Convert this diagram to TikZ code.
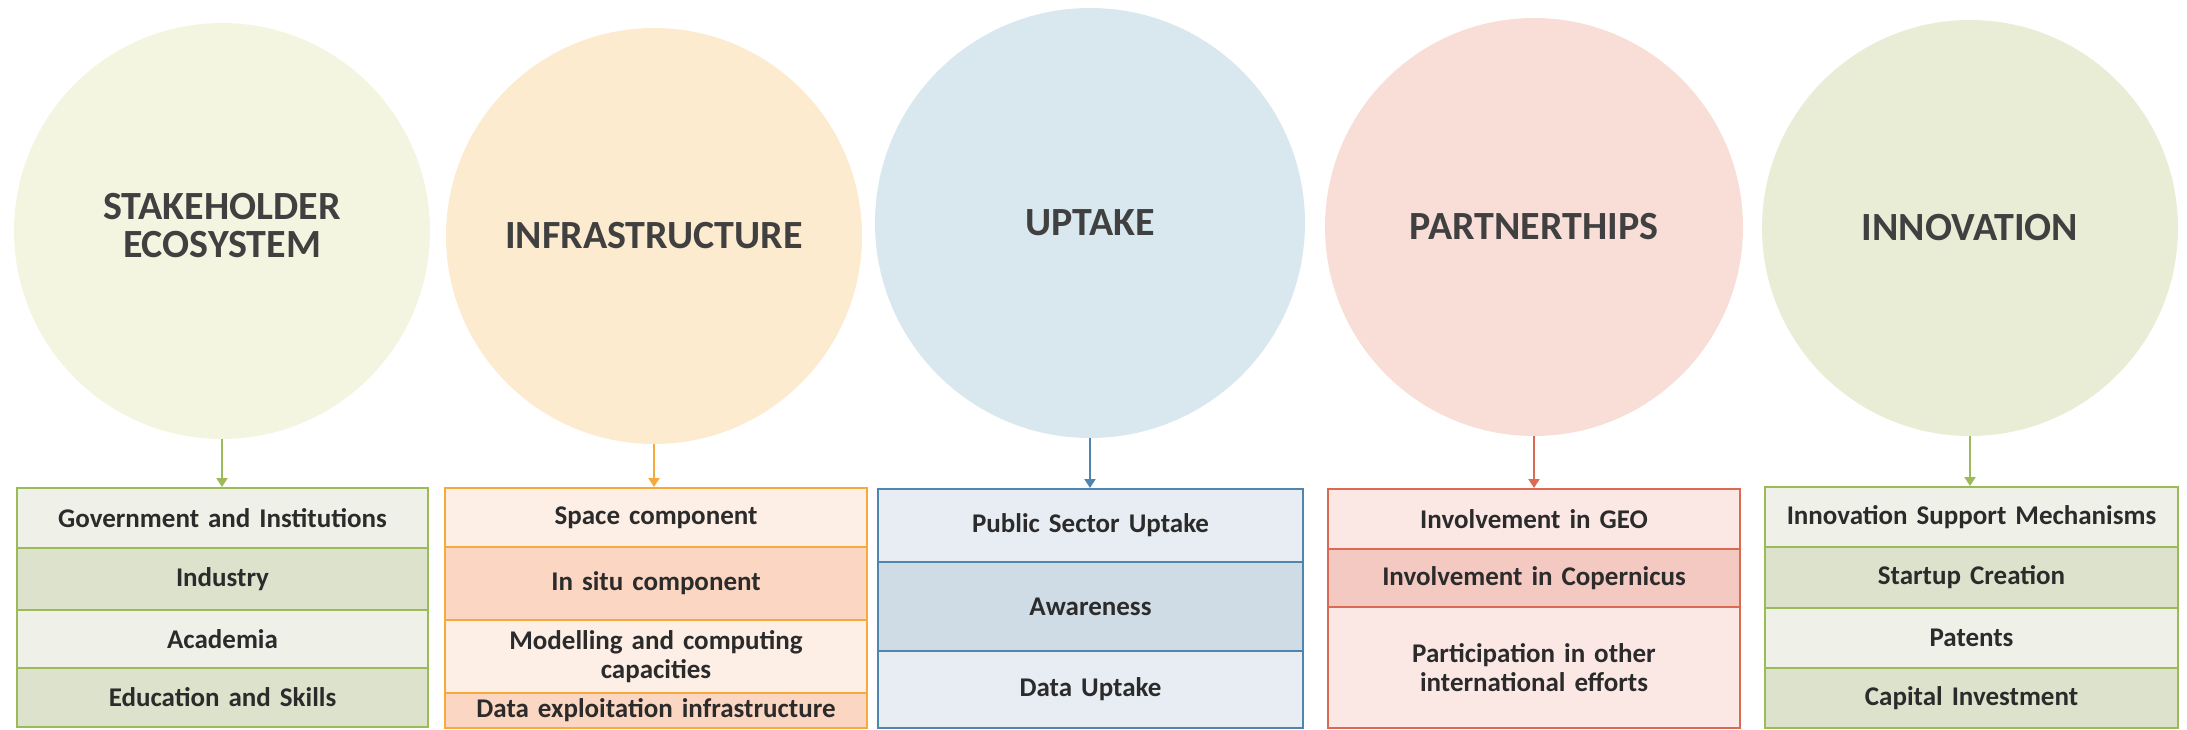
\documentclass[tikz,border=0pt]{standalone}
\usepackage{fontspec}
\setmainfont{Carlito}
\usetikzlibrary{arrows.meta}

% palette
\definecolor{titletxt}{HTML}{404040}
\definecolor{celltxt}{HTML}{2B2B2B}
\definecolor{cA}{HTML}{F4F5E0}
\definecolor{cB}{HTML}{FDEBD0}
\definecolor{cC}{HTML}{D9E8EF}
\definecolor{cD}{HTML}{F8DED6}
\definecolor{cE}{HTML}{E9EDD5}
\definecolor{grnline}{HTML}{9BBB59}
\definecolor{grnlight}{HTML}{EFF1E8}
\definecolor{grndark}{HTML}{DDE2CC}
\definecolor{orgline}{HTML}{F7A93B}
\definecolor{orglight}{HTML}{FDEEE6}
\definecolor{orgdark}{HTML}{FBD6C2}
\definecolor{bluline}{HTML}{4F86B0}
\definecolor{blulight}{HTML}{E7EDF3}
\definecolor{bludark}{HTML}{CFDBE5}
\definecolor{redline}{HTML}{DB6A52}
\definecolor{redlight}{HTML}{FBE8E5}
\definecolor{reddark}{HTML}{F3C9C1}

\tikzset{
  circ/.style={circle, inner sep=0pt, align=center, text=titletxt,
    font=\fontsize{40}{40}\selectfont\bfseries},
  cell/.style={rectangle, line width=2pt, inner sep=0pt, align=center,
    text=celltxt, font=\fontsize{27}{29}\selectfont\bfseries},
  cellA/.style={cell, draw=grnline, minimum width=411pt, text width=400pt},
  cellB/.style={cell, draw=orgline, minimum width=422pt, text width=412pt},
  cellC/.style={cell, draw=bluline, minimum width=425pt, text width=410pt},
  cellD/.style={cell, draw=redline, minimum width=412pt, text width=400pt},
  cellE/.style={cell, draw=grnline, minimum width=413pt, text width=405pt},
  link/.style={line width=2pt, -{Triangle[width=11pt,length=9pt]}},
}

\begin{document}
\begin{tikzpicture}[x=1pt, y=-1pt]
\useasboundingbox (0,0) rectangle (2187,730);

% category circles
\node[circ, fill=cA, minimum size=416pt] (k1) at (222,231)
  {\raisebox{-4pt}{\begin{tabular}{@{}c@{}}STAKEHOLDER\\[-2pt]ECOSYSTEM\end{tabular}}};
\node[circ, fill=cB, minimum size=416pt] (k2) at (654,236) {INFRASTRUCTURE};
\node[circ, fill=cC, minimum size=430pt] (k3) at (1090,223) {\raisebox{-5pt}{UPTAKE}};
\node[circ, fill=cD, minimum size=418pt] (k4) at (1534,227) {\raisebox{-6pt}{PARTNERTHIPS}};
\node[circ, fill=cE, minimum size=416pt] (k5) at (1970,228) {\raisebox{-5pt}{INNOVATION}};

% stakeholder ecosystem
\node[cellA, fill=grnlight, minimum height=60pt] (a1) at (222.5,518) {Government and Institutions};
\node[cellA, fill=grndark,  minimum height=62pt] (a2) at (222.5,579) {Industry};
\node[cellA, fill=grnlight, minimum height=58pt] (a3) at (222.5,639) {Academia};
\node[cellA, fill=grndark,  minimum height=59pt] (a4) at (222.5,697.5) {Education and Skills};

% infrastructure
\node[cellB, fill=orglight, minimum height=59pt] (b1) at (656,517.5) {Space component};
\node[cellB, fill=orgdark,  minimum height=73pt] (b2) at (656,583.5) {In situ component};
\node[cellB, fill=orglight, minimum height=73pt] (b3) at (656,656.5) {Modelling and computing\\capacities};
\node[cellB, fill=orgdark,  minimum height=35pt] (b4) at (656,710.5) {Data exploitation infrastructure};

% uptake
\node[cellC, fill=blulight, minimum height=73pt] (c1) at (1090.5,525.5) {Public Sector Uptake};
\node[cellC, fill=bludark,  minimum height=89pt] (c2) at (1090.5,606.5) {Awareness};
\node[cellC, fill=blulight, minimum height=77pt] (c3) at (1090.5,689.5) {Data Uptake};

% partnerships
\node[cellD, fill=redlight, minimum height=60pt]  (d1) at (1534,519) {Involvement in GEO};
\node[cellD, fill=reddark,  minimum height=58pt]  (d2) at (1534,578) {Involvement in Copernicus};
\node[cellD, fill=redlight, minimum height=121pt] (d3) at (1534,667.5) {Participation in other\\international efforts};

% innovation
\node[cellE, fill=grnlight, minimum height=60pt] (e1) at (1971.5,517) {Innovation Support Mechanisms};
\node[cellE, fill=grndark,  minimum height=61pt] (e2) at (1971.5,577.5) {Startup Creation};
\node[cellE, fill=grnlight, minimum height=60pt] (e3) at (1971.5,638) {Patents};
\node[cellE, fill=grndark,  minimum height=60pt] (e4) at (1971.5,698) {Capital Investment};

% connectors
\draw[link, draw=grnline, fill=grnline] (k1.south) -- (k1.south |- a1.north);
\draw[link, draw=orgline, fill=orgline] (k2.south) -- (k2.south |- b1.north);
\draw[link, draw=bluline, fill=bluline] (k3.south) -- (k3.south |- c1.north);
\draw[link, draw=redline, fill=redline] (k4.south) -- (k4.south |- d1.north);
\draw[link, draw=grnline, fill=grnline] (k5.south) -- (k5.south |- e1.north);
\end{tikzpicture}
\end{document}
